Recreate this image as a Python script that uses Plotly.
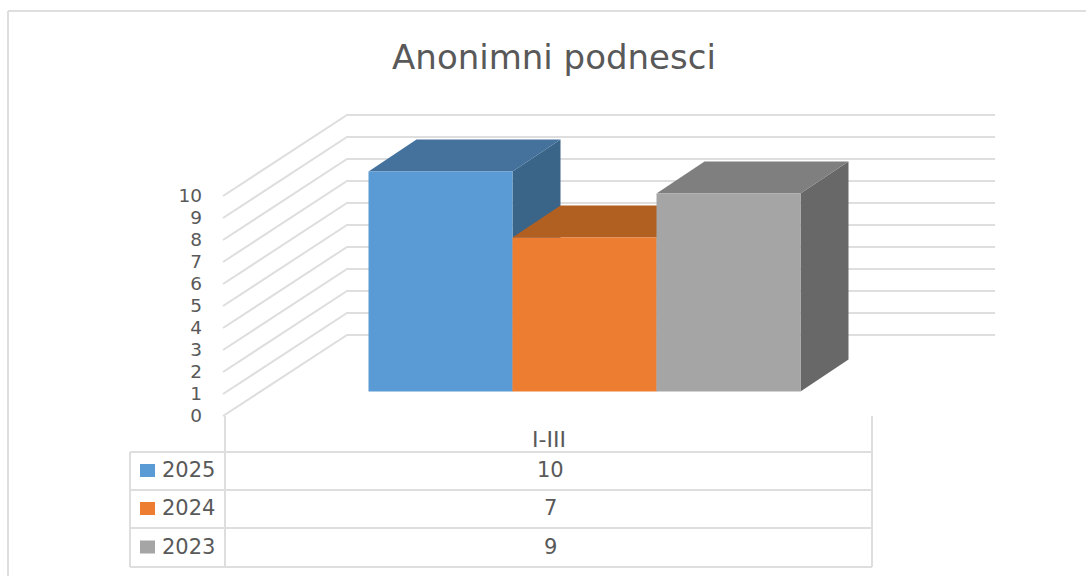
import plotly.graph_objects as go

# --- data ---
category = "I-III"
years = ["2025", "2024", "2023"]
values = [10, 7, 9]
y_ticks = list(range(0, 11))
title_text = "Anonimni podnesci"

front_colors = ["#5B9BD5", "#ED7D31", "#A5A5A5"]
top_colors = ["#44729D", "#B25F22", "#7F7F7F"]
side_colors = ["#3A6488", "#A05520", "#686868"]
GRID = "#DEDEDE"
TEXT = "#595959"

# --- layout constants (pixels of the 1086x576 page) ---
W, H = 1086, 576
PX_UNIT = 22.0        # pixels per value unit
PX_SLOT = 144.0       # pixels per bar slot
FRONT_Y0 = 416        # value 0 on the front axis
FIRST_CX = 440.5      # centre of the first bar
WALL_DX, WALL_DY = 122, 81
WALL_RIGHT = 995
FRONT_X = 225
BAR_LIFT_PX = 24.5    # bar front base above front axis zero
BAR_DX, BAR_DY = 48, 32


def px_x(p):
    return (p - FIRST_CX) / PX_SLOT


def dx(p):
    return p / PX_SLOT


def dy(p):
    return p / PX_UNIT


def paper_x(p):
    return p / W


def paper_y(p):
    return 1 - p / H


x_range = [px_x(0), px_x(W)]
y_range = [(FRONT_Y0 - H) / PX_UNIT, FRONT_Y0 / PX_UNIT]
lift = dy(BAR_LIFT_PX)

fig = go.Figure()

# wall and floor gridlines
for v in y_ticks:
    fig.add_trace(go.Scatter(
        x=[px_x(FRONT_X - 2), px_x(FRONT_X + WALL_DX), px_x(WALL_RIGHT)],
        y=[v, v + dy(WALL_DY), v + dy(WALL_DY)],
        mode="lines", line=dict(color=GRID, width=2),
        hoverinfo="skip", showlegend=False))

# depth faces, far-to-near from the library's scale
for i, (name, v) in enumerate(zip(years, values)):
    l, r = i - 0.5, i + 0.5
    ox, oy = dx(BAR_DX), dy(BAR_DY)
    fig.add_trace(go.Scatter(
        x=[r, r + ox, r + ox, r, r],
        y=[lift, lift + oy, lift + v + oy, lift + v, lift],
        fill="toself", fillcolor=side_colors[i], mode="lines",
        line=dict(width=0, color=side_colors[i]),
        hoverinfo="skip", showlegend=False))
    fig.add_trace(go.Scatter(
        x=[l, l + ox, r + ox, r, l],
        y=[lift + v, lift + v + oy, lift + v + oy, lift + v, lift + v],
        fill="toself", fillcolor=top_colors[i], mode="lines",
        line=dict(width=0, color=top_colors[i]),
        hoverinfo="skip", showlegend=False))

# front faces, on an overlaid subplot so they cover the depth faces
for i, (name, v) in enumerate(zip(years, values)):
    fig.add_trace(go.Bar(
        x=[i], y=[v], base=lift, width=1, name=name,
        marker=dict(color=front_colors[i], line=dict(width=0)),
        xaxis="x2", yaxis="y2", showlegend=False))

# table lines
T_LEFT, T_MID, T_RIGHT = 130, 225, 872
ROWS_Y = [452, 490, 528, 567]
shapes = []


def line(x0, y0, x1, y1, color=GRID, width=2):
    shapes.append(dict(type="line", xref="paper", yref="paper",
                       x0=paper_x(x0), y0=paper_y(y0),
                       x1=paper_x(x1), y1=paper_y(y1),
                       line=dict(color=color, width=width)))


for ry in ROWS_Y:
    line(T_LEFT, ry, T_RIGHT, ry)
line(T_LEFT, ROWS_Y[0], T_LEFT, ROWS_Y[-1])
line(T_MID, FRONT_Y0, T_MID, ROWS_Y[-1])
line(T_RIGHT, FRONT_Y0, T_RIGHT, ROWS_Y[-1])

# outer chart border
line(8, 11, W, 11)
line(8, 11, 8, H)

annotations = []


def text(x, y, s, size, anchor="center"):
    annotations.append(dict(xref="paper", yref="paper", x=paper_x(x), y=paper_y(y),
                            text=s, showarrow=False, xanchor=anchor, yanchor="middle",
                            font=dict(family="DejaVu Sans", size=size, color=TEXT)))


text(549, 439, category, 22)
for i, (name, v) in enumerate(zip(years, values)):
    cy = (ROWS_Y[i] + ROWS_Y[i + 1]) / 2
    shapes.append(dict(type="rect", xref="paper", yref="paper",
                       x0=paper_x(140), x1=paper_x(155),
                       y0=paper_y(cy - 7), y1=paper_y(cy + 6),
                       fillcolor=front_colors[i], line=dict(width=0)))
    text(160, cy - 1, name, 21, "left")
    text(550, cy - 1, str(v), 21)

fig.update_layout(
    width=W, height=H,
    margin=dict(l=0, r=0, t=0, b=0),
    paper_bgcolor="white", plot_bgcolor="white",
    showlegend=False, barmode="overlay",
    title=dict(text=title_text, x=554 / W, y=paper_y(57), xanchor="center",
               yanchor="middle", xref="paper", yref="paper",
               font=dict(family="DejaVu Sans", size=34, color=TEXT)),
    xaxis=dict(range=x_range, visible=False, fixedrange=True),
    yaxis=dict(range=y_range, anchor="free", position=paper_x(202),
               tickmode="array", tickvals=y_ticks, ticktext=[str(t) for t in y_ticks],
               showgrid=False, zeroline=False, showline=False, ticks="",
               tickfont=dict(family="DejaVu Sans", size=18.5, color=TEXT),
               fixedrange=True),
    xaxis2=dict(range=x_range, visible=False, overlaying="x", fixedrange=True),
    yaxis2=dict(range=y_range, visible=False, overlaying="y", fixedrange=True),
    shapes=shapes, annotations=annotations,
)

fig.write_html("out.html", post_script="document.body.style.margin='0';",
               config={"displayModeBar": False})
